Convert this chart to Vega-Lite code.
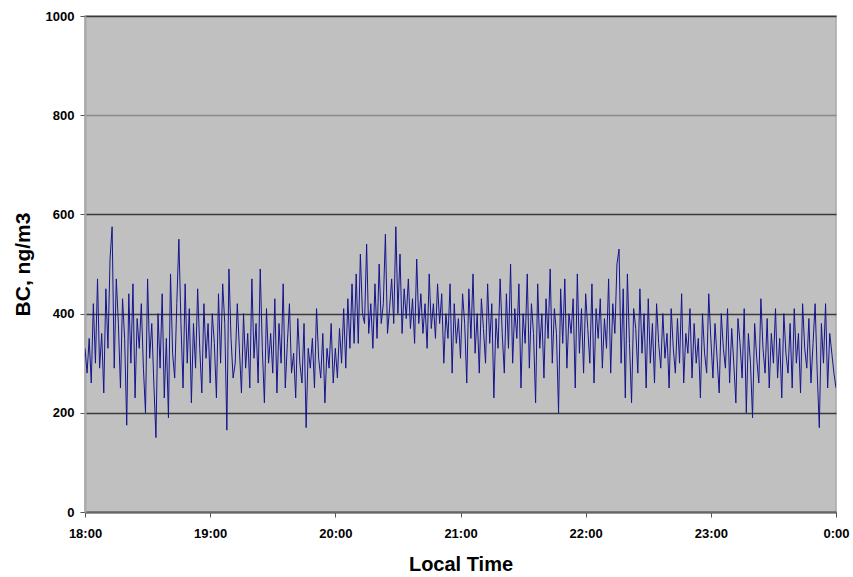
{
  "$schema": "https://vega.github.io/schema/vega-lite/v6.json",
  "width": 751,
  "height": 496,
  "autosize": {"type": "none"},
  "padding": {"left": 85, "top": 16, "right": 17, "bottom": 65},
  "background": "white",
  "config": {
    "view": {"fill": "#c0c0c0", "stroke": "#a8a8a8", "strokeWidth": 1.5},
    "font": "Liberation Sans"
  },
  "data": {
    "values": [
      {"m":0,"bc":330},{"m":1,"bc":280},{"m":2,"bc":350},{"m":3,"bc":260},{"m":4,"bc":420},{"m":5,"bc":300},{"m":6,"bc":470},{"m":7,"bc":290},{"m":8,"bc":360},{"m":9,"bc":240},
      {"m":10,"bc":450},{"m":11,"bc":330},{"m":12,"bc":510},{"m":13,"bc":575},{"m":14,"bc":290},{"m":15,"bc":470},{"m":16,"bc":380},{"m":17,"bc":250},{"m":18,"bc":430},{"m":19,"bc":350},
      {"m":20,"bc":175},{"m":21,"bc":440},{"m":22,"bc":300},{"m":23,"bc":460},{"m":24,"bc":230},{"m":25,"bc":390},{"m":26,"bc":330},{"m":27,"bc":420},{"m":28,"bc":290},{"m":29,"bc":200},
      {"m":30,"bc":470},{"m":31,"bc":310},{"m":32,"bc":380},{"m":33,"bc":260},{"m":34,"bc":150},{"m":35,"bc":400},{"m":36,"bc":290},{"m":37,"bc":440},{"m":38,"bc":230},{"m":39,"bc":350},
      {"m":40,"bc":190},{"m":41,"bc":480},{"m":42,"bc":320},{"m":43,"bc":270},{"m":44,"bc":420},{"m":45,"bc":550},{"m":46,"bc":380},{"m":47,"bc":250},{"m":48,"bc":460},{"m":49,"bc":300},
      {"m":50,"bc":410},{"m":51,"bc":220},{"m":52,"bc":380},{"m":53,"bc":290},{"m":54,"bc":450},{"m":55,"bc":330},{"m":56,"bc":240},{"m":57,"bc":420},{"m":58,"bc":310},{"m":59,"bc":380},
      {"m":60,"bc":260},{"m":61,"bc":400},{"m":62,"bc":340},{"m":63,"bc":230},{"m":64,"bc":440},{"m":65,"bc":300},{"m":66,"bc":460},{"m":67,"bc":380},{"m":68,"bc":165},{"m":69,"bc":490},
      {"m":70,"bc":350},{"m":71,"bc":270},{"m":72,"bc":300},{"m":73,"bc":420},{"m":74,"bc":330},{"m":75,"bc":240},{"m":76,"bc":400},{"m":77,"bc":290},{"m":78,"bc":360},{"m":79,"bc":250},
      {"m":80,"bc":470},{"m":81,"bc":310},{"m":82,"bc":380},{"m":83,"bc":260},{"m":84,"bc":490},{"m":85,"bc":330},{"m":86,"bc":220},{"m":87,"bc":410},{"m":88,"bc":300},{"m":89,"bc":360},
      {"m":90,"bc":280},{"m":91,"bc":430},{"m":92,"bc":240},{"m":93,"bc":380},{"m":94,"bc":300},{"m":95,"bc":460},{"m":96,"bc":250},{"m":97,"bc":340},{"m":98,"bc":420},{"m":99,"bc":280},
      {"m":100,"bc":320},{"m":101,"bc":230},{"m":102,"bc":390},{"m":103,"bc":300},{"m":104,"bc":260},{"m":105,"bc":380},{"m":106,"bc":170},{"m":107,"bc":330},{"m":108,"bc":290},{"m":109,"bc":350},
      {"m":110,"bc":250},{"m":111,"bc":410},{"m":112,"bc":310},{"m":113,"bc":270},{"m":114,"bc":360},{"m":115,"bc":220},{"m":116,"bc":330},{"m":117,"bc":290},{"m":118,"bc":380},{"m":119,"bc":260},
      {"m":120,"bc":330},{"m":121,"bc":270},{"m":122,"bc":370},{"m":123,"bc":300},{"m":124,"bc":410},{"m":125,"bc":290},{"m":126,"bc":430},{"m":127,"bc":330},{"m":128,"bc":460},{"m":129,"bc":340},
      {"m":130,"bc":480},{"m":131,"bc":340},{"m":132,"bc":520},{"m":133,"bc":400},{"m":134,"bc":380},{"m":135,"bc":540},{"m":136,"bc":360},{"m":137,"bc":420},{"m":138,"bc":330},{"m":139,"bc":460},
      {"m":140,"bc":350},{"m":141,"bc":500},{"m":142,"bc":380},{"m":143,"bc":420},{"m":144,"bc":560},{"m":145,"bc":360},{"m":146,"bc":410},{"m":147,"bc":470},{"m":148,"bc":380},{"m":149,"bc":575},
      {"m":150,"bc":400},{"m":151,"bc":520},{"m":152,"bc":360},{"m":153,"bc":450},{"m":154,"bc":390},{"m":155,"bc":470},{"m":156,"bc":370},{"m":157,"bc":430},{"m":158,"bc":340},{"m":159,"bc":510},
      {"m":160,"bc":380},{"m":161,"bc":440},{"m":162,"bc":360},{"m":163,"bc":420},{"m":164,"bc":330},{"m":165,"bc":480},{"m":166,"bc":370},{"m":167,"bc":420},{"m":168,"bc":350},{"m":169,"bc":460},
      {"m":170,"bc":380},{"m":171,"bc":440},{"m":172,"bc":300},{"m":173,"bc":400},{"m":174,"bc":350},{"m":175,"bc":460},{"m":176,"bc":280},{"m":177,"bc":420},{"m":178,"bc":340},{"m":179,"bc":390},
      {"m":180,"bc":310},{"m":181,"bc":440},{"m":182,"bc":380},{"m":183,"bc":260},{"m":184,"bc":450},{"m":185,"bc":350},{"m":186,"bc":480},{"m":187,"bc":320},{"m":188,"bc":400},{"m":189,"bc":280},
      {"m":190,"bc":430},{"m":191,"bc":370},{"m":192,"bc":300},{"m":193,"bc":460},{"m":194,"bc":340},{"m":195,"bc":420},{"m":196,"bc":230},{"m":197,"bc":390},{"m":198,"bc":330},{"m":199,"bc":470},
      {"m":200,"bc":360},{"m":201,"bc":280},{"m":202,"bc":440},{"m":203,"bc":330},{"m":204,"bc":500},{"m":205,"bc":300},{"m":206,"bc":410},{"m":207,"bc":350},{"m":208,"bc":460},{"m":209,"bc":250},
      {"m":210,"bc":400},{"m":211,"bc":340},{"m":212,"bc":480},{"m":213,"bc":290},{"m":214,"bc":420},{"m":215,"bc":360},{"m":216,"bc":220},{"m":217,"bc":460},{"m":218,"bc":330},{"m":219,"bc":400},
      {"m":220,"bc":270},{"m":221,"bc":430},{"m":222,"bc":350},{"m":223,"bc":490},{"m":224,"bc":300},{"m":225,"bc":410},{"m":226,"bc":360},{"m":227,"bc":200},{"m":228,"bc":450},{"m":229,"bc":340},
      {"m":230,"bc":470},{"m":231,"bc":290},{"m":232,"bc":400},{"m":233,"bc":360},{"m":234,"bc":430},{"m":235,"bc":250},{"m":236,"bc":480},{"m":237,"bc":320},{"m":238,"bc":410},{"m":239,"bc":280},
      {"m":240,"bc":440},{"m":241,"bc":370},{"m":242,"bc":300},{"m":243,"bc":460},{"m":244,"bc":260},{"m":245,"bc":410},{"m":246,"bc":350},{"m":247,"bc":430},{"m":248,"bc":290},{"m":249,"bc":390},
      {"m":250,"bc":330},{"m":251,"bc":470},{"m":252,"bc":280},{"m":253,"bc":420},{"m":254,"bc":360},{"m":255,"bc":500},{"m":256,"bc":530},{"m":257,"bc":300},{"m":258,"bc":450},{"m":259,"bc":230},
      {"m":260,"bc":480},{"m":261,"bc":340},{"m":262,"bc":220},{"m":263,"bc":410},{"m":264,"bc":370},{"m":265,"bc":280},{"m":266,"bc":450},{"m":267,"bc":320},{"m":268,"bc":400},{"m":269,"bc":250},
      {"m":270,"bc":430},{"m":271,"bc":300},{"m":272,"bc":380},{"m":273,"bc":260},{"m":274,"bc":420},{"m":275,"bc":340},{"m":276,"bc":290},{"m":277,"bc":400},{"m":278,"bc":310},{"m":279,"bc":360},
      {"m":280,"bc":250},{"m":281,"bc":410},{"m":282,"bc":330},{"m":283,"bc":280},{"m":284,"bc":390},{"m":285,"bc":300},{"m":286,"bc":440},{"m":287,"bc":260},{"m":288,"bc":360},{"m":289,"bc":320},
      {"m":290,"bc":410},{"m":291,"bc":270},{"m":292,"bc":380},{"m":293,"bc":300},{"m":294,"bc":350},{"m":295,"bc":230},{"m":296,"bc":400},{"m":297,"bc":320},{"m":298,"bc":280},{"m":299,"bc":440},
      {"m":300,"bc":350},{"m":301,"bc":270},{"m":302,"bc":380},{"m":303,"bc":310},{"m":304,"bc":240},{"m":305,"bc":400},{"m":306,"bc":330},{"m":307,"bc":290},{"m":308,"bc":410},{"m":309,"bc":260},
      {"m":310,"bc":370},{"m":311,"bc":300},{"m":312,"bc":220},{"m":313,"bc":390},{"m":314,"bc":340},{"m":315,"bc":270},{"m":316,"bc":410},{"m":317,"bc":200},{"m":318,"bc":360},{"m":319,"bc":300},
      {"m":320,"bc":190},{"m":321,"bc":380},{"m":322,"bc":310},{"m":323,"bc":260},{"m":324,"bc":430},{"m":325,"bc":330},{"m":326,"bc":280},{"m":327,"bc":390},{"m":328,"bc":250},{"m":329,"bc":360},
      {"m":330,"bc":300},{"m":331,"bc":410},{"m":332,"bc":270},{"m":333,"bc":350},{"m":334,"bc":230},{"m":335,"bc":400},{"m":336,"bc":320},{"m":337,"bc":280},{"m":338,"bc":380},{"m":339,"bc":250},
      {"m":340,"bc":410},{"m":341,"bc":300},{"m":342,"bc":360},{"m":343,"bc":240},{"m":344,"bc":420},{"m":345,"bc":330},{"m":346,"bc":290},{"m":347,"bc":390},{"m":348,"bc":260},{"m":349,"bc":340},
      {"m":350,"bc":420},{"m":351,"bc":280},{"m":352,"bc":170},{"m":353,"bc":380},{"m":354,"bc":300},{"m":355,"bc":420},{"m":356,"bc":250},{"m":357,"bc":360},{"m":358,"bc":320},{"m":359,"bc":280},
      {"m":360,"bc":250}
    ]
  },
  "mark": {"type": "line", "color": "#14148e", "strokeWidth": 1, "clip": true},
  "encoding": {
    "x": {
      "field": "m",
      "type": "quantitative",
      "scale": {"domain": [0, 360], "nice": false, "zero": false},
      "axis": {
        "values": [0, 60, 120, 180, 240, 300, 360],
        "labelExpr": "((datum.value/60+18)%24) + ':00'",
        "grid": false,
        "domainColor": "#666666",
        "domainWidth": 2,
        "tickColor": "#555555",
        "tickSize": 5,
        "labelFont": "Liberation Sans",
        "labelFontWeight": "bold",
        "labelFontSize": 13,
        "labelColor": "#000000",
        "labelPadding": 10,
        "labelOverlap": false,
        "labelFlush": false,
        "labelBound": false,
        "title": "Local Time",
        "titleFont": "Liberation Sans",
        "titleFontWeight": "bold",
        "titleFontSize": 20,
        "titleColor": "#000000",
        "titlePadding": 14
      }
    },
    "y": {
      "field": "bc",
      "type": "quantitative",
      "scale": {"domain": [0, 1000], "nice": false},
      "axis": {
        "values": [0, 200, 400, 600, 800, 1000],
        "format": "d",
        "grid": true,
        "gridColor": {"condition": {"test": "datum.value === 800", "value": "#8a8a8a"}, "value": "#3a3a3a"},
        "gridWidth": 1.5,
        "domainColor": "#a8a8a8",
        "domainWidth": 2,
        "tickColor": "#555555",
        "tickSize": 5,
        "labelFont": "Liberation Sans",
        "labelFontWeight": "bold",
        "labelFontSize": 13,
        "labelColor": "#000000",
        "labelPadding": 6,
        "title": "BC, ng/m3",
        "titleFont": "Liberation Sans",
        "titleFontWeight": "bold",
        "titleFontSize": 21,
        "titleColor": "#000000",
        "titlePadding": 12
      }
    }
  }
}
